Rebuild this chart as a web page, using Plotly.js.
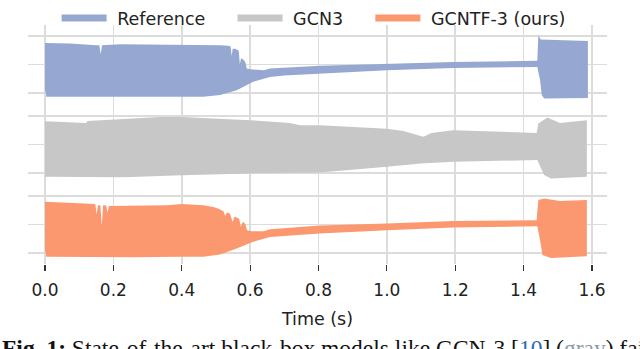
<!DOCTYPE html>
<html>
<head>
<meta charset="utf-8">
<script src="https://cdn.plot.ly/plotly-3.0.1.min.js"></script>
<style>
  html, body { margin: 0; padding: 0; background: #fff; }
  #plot { width: 640px; height: 349px; }
</style>
</head>
<body>
<div id="plot"></div>
<script>
// envelopes of the three waveforms (normalised amplitude, time in s)
const seriesNames = ['Reference', 'GCN3', 'GCNTF-3 (ours)'];
const seriesColors = ['rgb(150,168,209)', 'rgb(199,199,199)', 'rgb(252,152,112)'];
const seriesOffsets = [2.824, 0, -2.824];

const refTopT = [0, 0.073, 0.151, 0.159, 0.163, 0.167, 0.22, 0.366, 0.512, 0.536, 0.543, 0.546, 0.549, 0.556, 0.565, 0.567, 0.570, 0.573, 0.576, 0.582, 0.587, 0.590, 0.600, 0.640, 0.658, 0.804, 1.000, 1.194, 1.440, 1.443, 1.450, 1.500, 1.588];
const refTop  = [0.76, 0.74, 0.68, 0.68, 0.36, 0.68, 0.72, 0.71, 0.68, 0.66, 0.64, 0.30, 0.56, 0.56, 0.50, 0.45, 0.00, 0.20, 0.21, 0.15, 0.05, -0.14, -0.17, -0.20, -0.14, -0.04, 0.035, 0.09, 0.13, 1.03, 0.88, 0.86, 0.83];
const refBotT = [0, 0.004, 0.22, 0.366, 0.463, 0.512, 0.561, 0.609, 0.658, 0.70, 0.804, 1.000, 1.194, 1.440, 1.448, 1.453, 1.46, 1.588];
const refBot  = [-0.88, -1.14, -1.12, -1.14, -1.14, -1.08, -0.91, -0.61, -0.44, -0.39, -0.32, -0.20, -0.12, -0.085, -0.55, -1.08, -1.20, -1.18];

const gcnTopT = [0, 0.12, 0.125, 0.336, 0.40, 0.60, 0.716, 0.746, 0.804, 1.000, 1.048, 1.107, 1.13, 1.194, 1.438, 1.443, 1.47, 1.506, 1.585];
const gcnTop  = [0.82, 0.76, 0.83, 0.97, 0.97, 0.86, 0.76, 0.68, 0.68, 0.56, 0.48, 0.27, 0.41, 0.50, 0.41, 0.74, 0.95, 0.76, 0.86];
const gcnBotT = [0, 0.23, 0.40, 0.60, 0.804, 1.000, 1.10, 1.194, 1.440, 1.46, 1.48, 1.585];
const gcnBot  = [-1.14, -1.16, -1.09, -1.02, -0.99, -0.79, -0.67, -0.61, -0.55, -1.08, -1.20, -1.14];

const oursTopT = [0, 0.073, 0.122, 0.147, 0.151, 0.155, 0.162, 0.166, 0.170, 0.179, 0.183, 0.187, 0.356, 0.40, 0.463, 0.492, 0.506, 0.522, 0.527, 0.532, 0.541, 0.549, 0.553, 0.556, 0.568, 0.573, 0.577, 0.580, 0.586, 0.591, 0.604, 0.64, 0.658, 0.804, 1.000, 1.194, 1.438, 1.443, 1.46, 1.506, 1.585];
const oursTop  = [0.80, 0.76, 0.72, 0.72, 0.36, 0.68, 0.68, -0.06, 0.68, 0.67, 0.41, 0.65, 0.68, 0.72, 0.68, 0.62, 0.56, 0.47, 0.30, 0.42, 0.39, 0.09, 0.25, 0.27, 0.20, -0.08, 0.06, 0.09, 0.02, -0.20, -0.24, -0.24, -0.17, -0.04, 0.035, 0.12, 0.15, 0.86, 0.92, 0.83, 0.86];
const oursBotT = [0, 0.004, 0.26, 0.40, 0.463, 0.512, 0.561, 0.609, 0.658, 0.70, 0.804, 1.000, 1.194, 1.440, 1.448, 1.455, 1.48, 1.585];
const oursBot  = [-0.91, -1.14, -1.16, -1.14, -1.14, -1.06, -0.85, -0.61, -0.44, -0.40, -0.32, -0.20, -0.11, -0.06, -0.55, -1.08, -1.18, -1.12];

const xTicks = [0, 0.2, 0.4, 0.6, 0.8, 1.0, 1.2, 1.4, 1.6];

const envelopes = [
    [refTopT, refTop, refBotT, refBot],
    [gcnTopT, gcnTop, gcnBotT, gcnBot],
    [oursTopT, oursTop, oursBotT, oursBot],
];

const data = [];
envelopes.forEach(([tT, top, bT, bot], i) => {
    const off = seriesOffsets[i];
    data.push({
        x: tT.concat(bT.slice().reverse()),
        y: top.map(v => v + off).concat(bot.slice().reverse().map(v => v + off)),
        mode: 'lines',
        fill: 'toself',
        fillcolor: seriesColors[i],
        line: { width: 0, color: seriesColors[i] },
        showlegend: false,
        hoverinfo: 'skip',
    });
});
// legend entries (nbsp padding to get matplotlib-like spacing)
const nb = '\u00a0';
seriesNames.forEach((name, i) => {
    data.push({
        x: [null], y: [null],
        mode: 'lines',
        name: nb + name + (i < seriesNames.length - 1 ? nb.repeat(4) : ''),
        line: { color: seriesColors[i], width: 7 },
    });
});

const yTicks = [];
seriesOffsets.forEach(o => yTicks.push(o - 1, o, o + 1));

const font = 'DejaVu Sans, sans-serif';

Plotly.newPlot('plot', data, {
    width: 640,
    height: 349,
    margin: { l: 28, r: 33, t: 25, b: 85, autoexpand: false },
    paper_bgcolor: '#fff',
    plot_bgcolor: '#fff',
    font: { family: font, size: 17, color: '#222' },
    showlegend: true,
    legend: {
        orientation: 'h',
        xref: 'container', yref: 'container',
        x: 0.49, xanchor: 'center',
        y: 1.0, yanchor: 'top',
        itemwidth: 45,
        font: { family: font, size: 17.5, color: '#222' },
        bgcolor: 'rgba(0,0,0,0)',
    },
    xaxis: {
        range: [-0.0497, 1.6439],
        tickvals: xTicks,
        ticktext: xTicks.map(v => v.toFixed(1)),
        ticks: 'outside', ticklen: 6, tickwidth: 1.2, tickcolor: '#333',
        ticklabelstandoff: 5,
        showgrid: true, gridcolor: '#dcdcdc', gridwidth: 1.6,
        zeroline: false, showline: false,
        title: { text: 'Time (s)', font: { family: font, size: 17.5, color: '#222' }, standoff: 13 },
    },
    yaxis: {
        range: [-4.22, 4.22],
        tickvals: yTicks,
        showticklabels: false,
        ticks: '',
        showgrid: true, gridcolor: '#dcdcdc', gridwidth: 1.6,
        zeroline: false, showline: false,
        fixedrange: true,
    },
    annotations: [{
        xref: 'paper', yref: 'paper',
        x: -28 / 579, y: (264 - 333) / 239,
        xanchor: 'left', yanchor: 'top',
        showarrow: false,
        align: 'left',
        font: { family: 'Liberation Serif, serif', size: 23.5, color: '#111' },
        text: "<b>Fig. 1:</b> State-of-the-art black-box models like GCN-3 [<span style='color:#2a6cb0'>10</span>] (<span style='color:#8a9aa8'>gray</span>) fail",
    }],
}, { staticPlot: true });
</script>
</body>
</html>
